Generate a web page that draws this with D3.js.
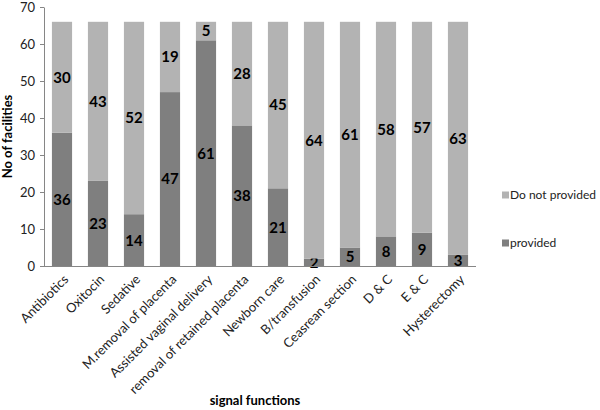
<!DOCTYPE html>
<html><head><meta charset="utf-8">
<script src="https://cdn.jsdelivr.net/npm/d3@7"></script>
<style>body{margin:0;background:#fff;} svg{display:block;} text{font-family:Lato,"Open Sans",sans-serif;}</style>
</head><body><svg id="c" width="600" height="410"></svg>
<script>
const categories = ["Antibiotics","Oxitocin","Sedative","M.removal of placenta","Assisted vaginal delivery","removal of retained placenta","Newborn care","B/transfusion","Ceasrean section","D & C","E & C","Hysterectomy"];
const provided = [36,23,14,47,61,38,21,2,5,8,9,3];
const notProvided = [30,43,52,19,5,28,45,64,61,58,57,63];
const seriesNames = ["provided","Do not provided"];
const yTicks = [0,10,20,30,40,50,60,70];
const colors = {"provided":"#7f7f7f","Do not provided":"#b3b3b3"};

const svg = d3.select("#c");
const m = {l:44, r:124, t:7, b:144};
const W = 600, H = 410;
const x = d3.scaleBand().domain(categories).range([m.l, W-m.r]).paddingInner(0.44).paddingOuter(0.22);
const y = d3.scaleLinear().domain([0,70]).range([H-m.b, m.t]);

const rows = categories.map((c,i)=>({cat:c, "provided":provided[i], "Do not provided":notProvided[i]}));
const stack = d3.stack().keys(seriesNames)(rows);

const g = svg.append("g");
stack.forEach(s=>{
  g.selectAll(null).data(s).enter().append("rect")
    .attr("x", d=>x(d.data.cat))
    .attr("width", x.bandwidth())
    .attr("y", d=>y(d[1]))
    .attr("height", d=>y(d[0])-y(d[1]))
    .attr("fill", colors[s.key]);
  g.selectAll(null).data(s).enter().append("text")
    .attr("x", d=>x(d.data.cat)+x.bandwidth()/2)
    .attr("y", d=>(y(d[0])+y(d[1]))/2)
    .attr("dy","0.36em")
    .attr("text-anchor","middle")
    .attr("font-size","15px").attr("font-weight","bold").attr("fill","#000")
    .text(d=>d[1]-d[0]);
});

const ya = svg.append("g").attr("transform",`translate(${m.l},0)`)
  .call(d3.axisLeft(y).tickValues(yTicks).tickSize(4).tickSizeOuter(0).tickPadding(5));
ya.select(".domain").attr("stroke","#868686");
ya.selectAll(".tick line").attr("stroke","#868686");
ya.selectAll("text").attr("font-size","13px").attr("fill","#222");

const xa = svg.append("g").attr("transform",`translate(0,${H-m.b})`)
  .call(d3.axisBottom(x).tickSize(0).tickPadding(0));
xa.select(".domain").attr("stroke","#868686").attr("d",`M${m.l-4},0.5H${W-m.r}`);
xa.selectAll("text").attr("font-size","13px").attr("fill","#222")
  .attr("text-anchor","end")
  .attr("y",0).attr("dy","0.35em")
  .attr("transform","translate(4,11) rotate(-45)");

svg.append("text").attr("transform",`translate(12,${(m.t+H-m.b)/2}) rotate(-90)`)
  .attr("text-anchor","middle").attr("font-size","13px").attr("font-weight","bold").text("No of facilities");
svg.append("text").attr("x",255).attr("y",405)
  .attr("text-anchor","middle").attr("font-size","13px").attr("font-weight","bold").text("signal functions");

const legendItems = ["Do not provided","provided"];
const lg = svg.append("g");
legendItems.forEach((k,i)=>{
  const yy = 195 + i*48;
  lg.append("rect").attr("x",502).attr("y",yy-3.5).attr("width",7).attr("height",7).attr("fill",colors[k]);
  lg.append("text").attr("x",510).attr("y",yy).attr("dy","0.36em").attr("font-size","12px").attr("fill","#222").text(k);
});
</script></body></html>
